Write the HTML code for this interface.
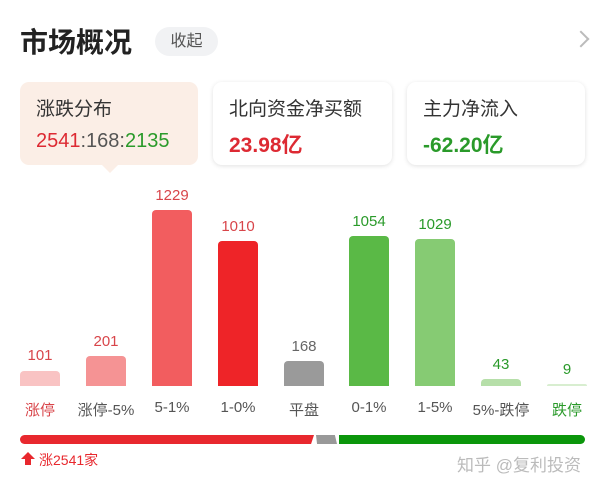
<!DOCTYPE html>
<html><head><meta charset="utf-8"><style>
body{margin:0;width:600px;height:487px;background:#fff;position:relative;overflow:hidden;font-family:"Liberation Sans","Noto Sans CJK SC",sans-serif}
.a{position:absolute}
.card{position:absolute;top:82px;height:83px;border-radius:9px;background:#fff;box-shadow:0 1px 5px rgba(0,0,0,.12)}
.lab{position:absolute;left:16px;top:12px;font-size:19px;color:#333}
.val{position:absolute;left:16px;top:47px;font-size:21px;font-weight:bold}
.bar{position:absolute;width:40px;border-radius:4px 4px 0 0}
.n{position:absolute;width:66px;text-align:center;font-size:15px}
.c{position:absolute;top:399px;width:80px;text-align:center;font-size:15px;color:#555}
</style></head><body>
<div class="a" style="left:20px;top:21px;font-size:28px;font-weight:bold;color:#222">市场概况</div>
<div class="a" style="left:155px;top:27px;width:63px;height:29px;border-radius:15px;background:#f1f2f4;color:#555;font-size:16px;line-height:29px;text-align:center">收起</div>
<div class="a" style="left:575px;top:33px;width:10px;height:10px;border-top:2px solid #bbb;border-right:2px solid #bbb;transform:rotate(45deg)"></div>

<div class="card" style="left:20px;width:178px;background:#fbeee6;box-shadow:none"><div class="lab">涨跌分布</div><div class="val" style="font-weight:normal;font-size:20px;top:48px"><span style="color:#dd2a33">2541</span><span style="color:#555">:168:</span><span style="color:#2a9a2a">2135</span></div></div>
<div class="a" style="left:102px;top:165px;width:0;height:0;border-left:8px solid transparent;border-right:8px solid transparent;border-top:8px solid #fbeee6"></div>
<div class="card" style="left:213px;width:179px"><div class="lab">北向资金净买额</div><div class="val" style="color:#dd2a33">23.98亿</div></div>
<div class="card" style="left:407px;width:178px"><div class="lab">主力净流入</div><div class="val" style="color:#2a9a2a">-62.20亿</div></div>

<div class="bar" style="left:20px;top:371px;height:15px;background:#f9c3c3"></div>
<div class="bar" style="left:86px;top:356px;height:30px;background:#f59394"></div>
<div class="bar" style="left:152px;top:210px;height:176px;background:#f25d5f"></div>
<div class="bar" style="left:218px;top:241px;height:145px;background:#ee2428"></div>
<div class="bar" style="left:284px;top:361px;height:25px;background:#9a9a9a"></div>
<div class="bar" style="left:349px;top:236px;height:150px;background:#5ab946"></div>
<div class="bar" style="left:415px;top:239px;height:147px;background:#86cb73"></div>
<div class="bar" style="left:481px;top:379px;height:7px;background:#b6dfa9"></div>
<div class="bar" style="left:547px;top:384px;height:2px;background:#d8eed0"></div>

<div class="n" style="left:7px;top:347px;color:#d8454a">101</div>
<div class="n" style="left:73px;top:333px;color:#d8454a">201</div>
<div class="n" style="left:139px;top:187px;color:#d8454a">1229</div>
<div class="n" style="left:205px;top:218px;color:#d8454a">1010</div>
<div class="n" style="left:271px;top:338px;color:#666">168</div>
<div class="n" style="left:336px;top:213px;color:#2a9a2a">1054</div>
<div class="n" style="left:402px;top:216px;color:#2a9a2a">1029</div>
<div class="n" style="left:468px;top:356px;color:#2a9a2a">43</div>
<div class="n" style="left:534px;top:361px;color:#2a9a2a">9</div>

<div class="c" style="left:0px;color:#d8454a">涨停</div>
<div class="c" style="left:66px">涨停-5%</div>
<div class="c" style="left:132px">5-1%</div>
<div class="c" style="left:198px">1-0%</div>
<div class="c" style="left:264px">平盘</div>
<div class="c" style="left:329px">0-1%</div>
<div class="c" style="left:395px">1-5%</div>
<div class="c" style="left:461px">5%-跌停</div>
<div class="c" style="left:527px;color:#2a9a2a">跌停</div>

<div class="a" style="left:20px;top:435px;width:294px;height:9px;background:#e8282e;border-radius:5px 0 0 5px;clip-path:polygon(0 0,100% 0,99% 100%,0 100%)"></div>
<div class="a" style="left:316px;top:435px;width:21px;height:9px;background:#999;clip-path:polygon(0 0,90% 0,100% 100%,5% 100%)"></div>
<div class="a" style="left:339px;top:435px;width:246px;height:9px;background:#0b960b;border-radius:0 5px 5px 0"></div>

<div class="a" style="left:21px;top:452px;width:0;height:0;border-left:7px solid transparent;border-right:7px solid transparent;border-bottom:7px solid #e8282e"></div>
<div class="a" style="left:25px;top:458px;width:6px;height:7px;background:#e8282e"></div>
<div class="a" style="left:39px;top:450px;font-size:14px;color:#e8282e">涨2541家</div>
<div class="a" style="left:457px;top:451px;font-size:17px;color:#bbb">知乎 @复利投资</div>
</body></html>
